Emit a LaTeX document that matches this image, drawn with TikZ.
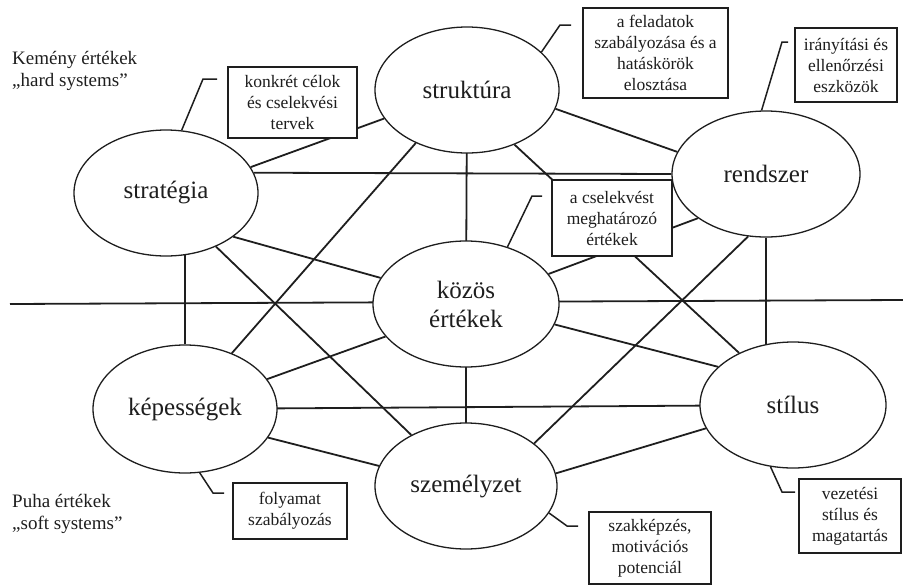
\documentclass[tikz,border=0pt]{standalone}
\usepackage{fontspec}
\setmainfont{Liberation Serif}
\usetikzlibrary{shapes.geometric,backgrounds}
\definecolor{ink}{HTML}{1E1E1E}
\tikzset{
  ell/.style={ellipse, draw=ink, line width=1.3pt, fill=white, inner sep=0pt,
    minimum width=#1, minimum height=126pt, text=ink, align=center,
    font=\fontsize{25}{29}\selectfont},
  ell/.default=184pt,
  infobox/.style={rectangle, draw=ink, line width=1.2pt, fill=white, inner sep=0pt,
    text=ink, align=center, font=\fontsize{17.5}{21}\selectfont},
  link/.style={draw=ink, line width=1.8pt},
  callout/.style={draw=ink, line width=1.5pt},
  sidelabel/.style={anchor=west, align=left, text=ink, inner sep=0pt,
    font=\fontsize{19}{22}\selectfont}
}
\begin{document}
\begin{tikzpicture}[x=1pt,y=-1pt]
\useasboundingbox (0,0) rectangle (903,587);

% ellipses
\node[ell=184pt] (S) at (166,193) {stratégia};
\node[ell=184pt] (T) at (467,90) {struktúra};
\node[ell=188pt] (R) at (766,174) {rendszer};
\node[ell=186pt] (K) at (466,304) {közös\\értékek};
\node[ell=184pt, minimum height=128pt] (P) at (185,409) {képességek};
\node[ell=182pt] (Z) at (466,486) {személyzet};
\node[ell=186pt] (L) at (793,405) {stílus};

% boxes
\node[infobox, minimum width=129pt, minimum height=71pt] (B1) at (292.5,102.5) {konkrét célok\\és cselekvési\\tervek};
\node[infobox, minimum width=145pt, minimum height=90pt] (B2) at (655.5,53) {a feladatok\\szabályozása és a\\hatáskörök\\elosztása};
\node[infobox, minimum width=102pt, minimum height=74pt] (B3) at (846,65) {irányítási és\\ellenőrzési\\eszközök};
\node[infobox, minimum width=120pt, minimum height=76pt] (B4) at (612,218) {a cselekvést\\meghatározó\\értékek};
\node[infobox, minimum width=114pt, minimum height=56pt] (B5) at (290,511) {folyamat\\szabályozás};
\node[infobox, minimum width=122pt, minimum height=72pt] (B6) at (650,548) {szakképzés,\\motivációs\\potenciál};
\node[infobox, minimum width=102pt, minimum height=74pt] (B7) at (850,516) {vezetési\\stílus és\\magatartás};

% side labels
\node[sidelabel] (hard) at (12,71) {Kemény értékek\\„hard systems”};
\node[sidelabel] (soft) at (12,514) {Puha értékek\\„soft systems”};

% callout coordinates
\coordinate (c1a) at (203,79);  \coordinate (c1b) at (217,79);
\coordinate (c2a) at (560,25);  \coordinate (c2b) at (571,25);
\coordinate (c3a) at (782,42);  \coordinate (c3b) at (788,42);
\coordinate (c4a) at (532,196); \coordinate (c4b) at (542,196);
\coordinate (c5a) at (213,493); \coordinate (c5b) at (224,493);
\coordinate (c6a) at (567,526); \coordinate (c6b) at (578,526);
\coordinate (c7a) at (782,492); \coordinate (c7b) at (795,492);
\coordinate (divL) at (10,304);
\coordinate (divR) at (903,300);

\begin{scope}[on background layer]
  % divider
  \draw[link] (divL) -- (divR);
  % connectors
  \draw[link] (S.17) -- (T.-161);
  \draw[link] (S.13) -- (R.west);
  \draw[link] (S.-33) -- (K.163);
  \draw[link] (S.-47) -- (Z.137);
  \draw[link] (P.north) -- (P.north |- S.center);
  \draw[link] (T.-134) -- (P.50);
  \draw[link] (T.center) -- (K.center);
  \draw[link] (T.-12) -- (R.166);
  \draw[link] (T.-49) -- (L.136);
  \draw[link] (R.-147) -- (K.20);
  \draw[link] (R.-106) -- (Z.32);
  \draw[link] (R.south) -- (R.south |- L.center);
  \draw[link] (K.-158) -- (P.20);
  \draw[link] (K.center) -- (Z.center);
  \draw[link] (K.-13) -- (L.153);
  \draw[link] (P.-19) -- (Z.167);
  \draw[link] (P.center) -- (L.center);
  \draw[link] (Z.8) -- (L.-165);
\end{scope}

% callouts
\draw[callout] (S.76) -- (c1a) -- (c1b);
\draw[callout] (T.27) -- (c2a) -- (c2b);
\draw[callout] (R.94) -- (c3a) -- (c3b);
\draw[callout] (K.54) -- (c4a) -- (c4b);
\draw[callout] (P.-77) -- (c5a) -- (c5b);
\draw[callout] (Z.-18) -- (c6a) -- (c6b);
\draw[callout] (L.-110) -- (c7a) -- (c7b);
\end{tikzpicture}
\end{document}
